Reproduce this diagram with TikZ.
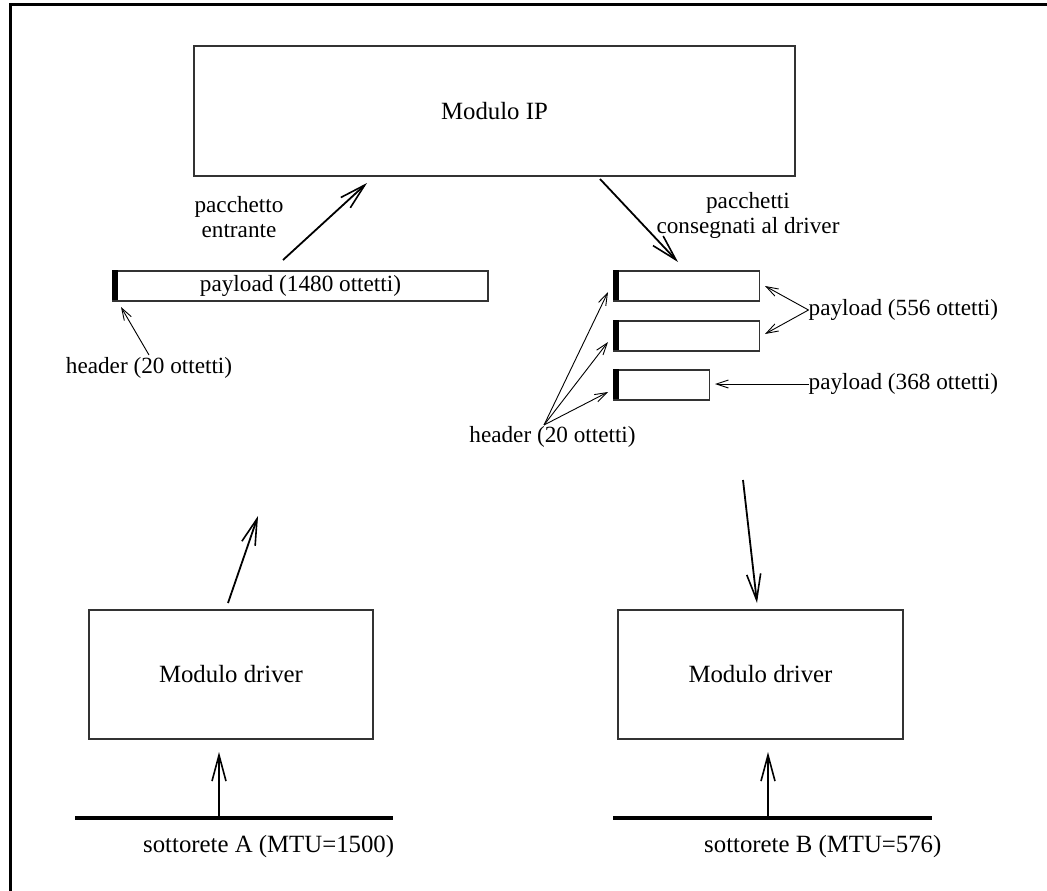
\documentclass[tikz,border=0pt]{standalone}
\usepackage{fontspec}
\setmainfont{Liberation Serif}
\usetikzlibrary{arrows.meta}
\begin{document}
\begin{tikzpicture}[x=1pt,y=-1pt,
  every node/.style={inner sep=0pt},
  bigtext/.style={font=\fontsize{24.8}{27}\selectfont},
  smalltext/.style={font=\fontsize{23.2}{25}\selectfont},
  box/.style={draw=black!80, line width=1.2pt},
  hdrbar/.style={fill=black},
  bigarrow/.style={-{Straight Barb[length=26pt,width=14pt,line width=1.6pt]}, line width=1.8pt},
  thinarrow/.style={-{Straight Barb[length=12pt,width=8pt]}, line width=0.9pt},
  netline/.style={line width=4.5pt},
  frameline/.style={line width=3pt}]
\useasboundingbox (0,0) rectangle (1047,891);
\draw[frameline] (10,891) -- (10,5) -- (1047,5);

% boxes
\node[box, bigtext, minimum width=601pt, minimum height=130pt] (ip) at (494.5,111) {Modulo IP};
\node[box, smalltext, minimum width=375pt, minimum height=30pt] (pA) at (300.5,286) {payload (1480 ottetti)};
\node[box, minimum width=146pt, minimum height=30pt] (pB1) at (686.3,286) {};
\node[box, minimum width=146pt, minimum height=30pt] (pB2) at (686.3,336) {};
\node[box, minimum width=96pt, minimum height=30pt] (pB3) at (661.3,385) {};
\node[box, bigtext, minimum width=284pt, minimum height=129pt] (drvA) at (231,674.5) {Modulo driver};
\node[box, bigtext, minimum width=285pt, minimum height=129pt] (drvB) at (760.5,674.5) {Modulo driver};

\foreach \p in {pA,pB1,pB2,pB3}
  \fill[hdrbar] (\p.north west) rectangle ++(6,30);

% labels
\node[smalltext, align=center] (lin) at (239,217.5) {pacchetto\\entrante};
\node[smalltext, align=center] (lout) at (748,215.5) {pacchetti\\consegnati al driver};
\node[smalltext] (hA) at (149,368) {header (20 ottetti)};
\node[smalltext] (hB) at (552.5,437) {header (20 ottetti)};
\node[smalltext, anchor=west] (l556) at (808.5,310) {payload (556 ottetti)};
\node[smalltext, anchor=west] (l368) at (808.5,384) {payload (368 ottetti)};
\node[bigtext, anchor=west] (sA) at (143,847) {sottorete A (MTU=1500)};
\node[bigtext, anchor=west] (sB) at (704,847) {sottorete B (MTU=576)};

% connector end points
\coordinate (a1s) at (283,260);
\coordinate (a1e) at (367,183);
\coordinate (a2s) at (600,179);
\coordinate (a2e) at (678,262);
\coordinate (hAs) at (149,355);
\coordinate (hAe) at (121,307);
\coordinate (p556s) at (808.5,310);
\coordinate (p556a) at (765,286);
\coordinate (p556b) at (765,334);
\coordinate (p368e) at (715,384);
\coordinate (hBs) at (544,425);
\coordinate (hB1) at (608,292);
\coordinate (hB2) at (608,342);
\coordinate (hB3) at (608,392);
\coordinate (lAs) at (228,603);
\coordinate (lAe) at (258,516);
\coordinate (lBs) at (743,480);
\coordinate (lBe) at (757,603);
\coordinate (nA) at (219,818);
\coordinate (nAe) at (219,752);
\coordinate (nB) at (768,818);
\coordinate (nBe) at (768,752);

% network lines
\draw[netline] (75,818) -- (393,818);
\draw[netline] (613,818) -- (932,818);

% arrows
\draw[bigarrow] (a1s) -- (a1e);
\draw[bigarrow] (a2s) -- (a2e);
\draw[bigarrow] (lAs) -- (lAe);
\draw[bigarrow] (lBs) -- (lBe);
\draw[bigarrow] (nA) -- (nAe);
\draw[bigarrow] (nB) -- (nBe);
\draw[thinarrow] (hAs) -- (hAe);
\draw[thinarrow] (p556s) -- (p556a);
\draw[thinarrow] (p556s) -- (p556b);
\draw[thinarrow] (l368.west) -- (p368e);
\draw[thinarrow] (hBs) -- (hB1);
\draw[thinarrow] (hBs) -- (hB2);
\draw[thinarrow] (hBs) -- (hB3);
\end{tikzpicture}
\end{document}
